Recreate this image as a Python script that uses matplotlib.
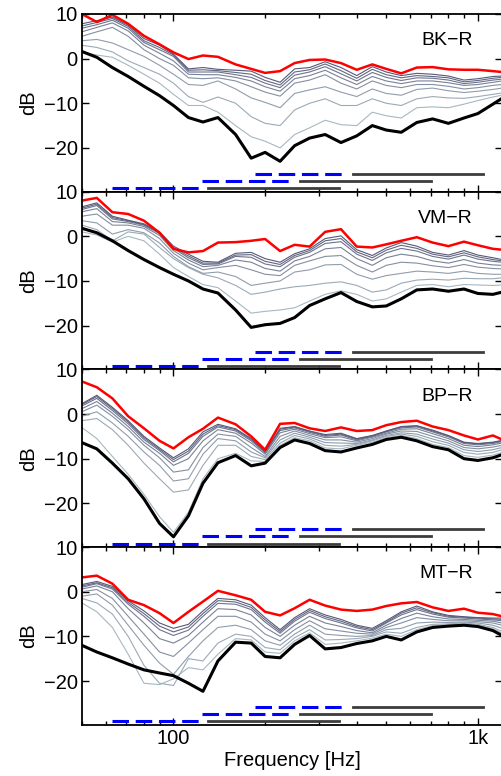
import numpy as np
import matplotlib.pyplot as plt
from matplotlib.ticker import LogLocator, NullFormatter, FixedLocator, FixedFormatter
from matplotlib.colors import to_rgb

plt.rcParams['font.family'] = ['Liberation Sans', 'DejaVu Sans']

# frequency grid (Hz), roughly 1/6 octave
freq = [50, 56, 63, 71, 80, 90, 100, 112, 125, 140, 160, 180, 200, 224, 250,
        280, 315, 355, 400, 450, 500, 560, 630, 710, 800, 900, 1000, 1120, 1200]

names = ['BK\u2212R', 'VM\u2212R', 'BP\u2212R', 'MT\u2212R']

# ---- BK-R
bk_red = [10.0, 8.2, 9.8, 7.8, 5.1, 3.2, 1.4, -0.1, 0.7, 0.4, -1.3, -2.3, -3.2, -2.8, -1.0,
          -0.3, -0.2, -1.0, -2.5, -1.3, -2.3, -3.3, -2.0, -1.9, -2.4, -2.5, -2.5, -2.8, -3.0]
bk_black = [1.6, 0.3, -2.0, -4.0, -6.2, -8.3, -10.5, -13.2, -14.2, -13.2, -17.0, -22.3, -21.0, -23.0, -19.5,
            -17.8, -17.0, -18.8, -17.3, -15.0, -16.0, -16.5, -14.3, -13.5, -14.5, -13.3, -12.3, -10.2, -8.9]
bk_thin = [
    [7.8, 8.5, 9.3, 7.5, 4.5, 3.0, 1.0, -2.3, -2.0, -2.4, -2.6, -2.8, -4.2, -5.3, -2.3,
     -2.0, -0.7, -2.0, -3.8, -1.8, -3.0, -3.8, -3.3, -3.5, -3.9, -4.8, -4.5, -4.0, -3.9],
    [7.3, 8.1, 9.0, 7.2, 4.0, 2.5, 0.8, -2.6, -2.5, -2.7, -3.1, -3.5, -4.9, -5.9, -3.0,
     -2.5, -1.2, -2.7, -4.4, -2.4, -3.6, -4.3, -3.8, -4.0, -4.3, -5.2, -4.9, -4.4, -4.2],
    [6.8, 7.6, 8.6, 6.8, 3.6, 2.0, 0.5, -3.0, -3.0, -3.0, -3.6, -4.2, -5.5, -6.5, -3.7,
     -3.0, -1.8, -3.4, -5.0, -3.1, -4.2, -4.9, -4.3, -4.4, -4.8, -5.6, -5.3, -4.8, -4.6],
    [6.0, 7.0, 8.0, 6.2, 3.0, 1.2, -0.5, -3.5, -3.6, -3.6, -4.2, -5.0, -6.3, -7.3, -4.5,
     -3.8, -2.6, -4.3, -5.8, -4.0, -5.0, -5.6, -5.0, -5.0, -5.4, -6.0, -5.8, -5.3, -5.0],
    [5.0, 6.0, 7.0, 5.0, 2.0, 0.0, -1.5, -4.3, -4.5, -4.3, -5.0, -6.3, -7.5, -8.4, -5.5,
     -4.8, -3.6, -5.5, -6.8, -5.0, -6.0, -6.5, -5.8, -5.8, -6.2, -6.8, -6.5, -6.0, -5.8],
    [4.0, 4.3, 3.5, 2.0, 0.5, -1.5, -3.5, -5.8, -6.0, -5.0, -6.8, -8.8, -9.8, -11.0, -7.8,
     -7.0, -6.3, -7.5, -8.5, -6.8, -7.8, -8.2, -6.9, -6.6, -7.2, -7.6, -7.3, -6.9, -6.6],
    [3.0, 2.5, 1.5, -0.5, -2.0, -3.5, -5.5, -8.5, -9.8, -8.6, -10.0, -13.0, -14.5, -15.0, -11.5,
     -10.0, -9.0, -10.5, -10.5, -9.0, -10.0, -10.5, -9.0, -8.5, -8.8, -8.9, -8.5, -8.0, -7.7],
    [1.5, 0.8, 0.3, -1.5, -3.5, -5.5, -8.0, -10.5, -10.5, -12.0, -15.0, -17.5, -18.5, -20.0, -17.0,
     -15.5, -13.8, -14.8, -15.0, -12.0, -12.8, -13.3, -11.0, -10.8, -11.0, -10.2, -9.4, -8.6, -8.2],
]

# ---- VM-R
vm_red = [8.0, 8.6, 5.4, 5.0, 3.5, 0.8, -2.8, -3.6, -3.3, -1.4, -1.3, -1.0, -0.6, -3.3, -1.9,
          -2.3, 1.0, 1.6, -2.3, -2.5, -1.8, -1.0, -0.2, -1.4, -2.2, -1.2, -2.0, -2.8, -3.0]
vm_black = [1.8, 0.8, -1.0, -3.2, -5.2, -7.0, -8.5, -10.0, -11.8, -12.7, -16.5, -20.4, -19.8, -19.5, -18.2,
            -15.5, -14.0, -12.6, -14.6, -15.8, -15.6, -14.0, -12.0, -11.8, -12.3, -11.8, -12.8, -13.0, -12.5]
vm_thin = [
    [6.6, 7.5, 4.5, 3.6, 2.8, 1.0, -2.2, -4.0, -5.6, -5.8, -3.8, -3.6, -5.0, -5.8, -3.9,
     -2.8, -0.5, 0.1, -3.0, -4.3, -2.6, -1.4, -2.2, -3.6, -4.2, -3.2, -4.2, -4.8, -5.2],
    [6.3, 7.2, 4.2, 3.5, 2.6, 0.8, -2.5, -4.4, -6.0, -6.0, -4.2, -4.1, -5.6, -6.3, -4.3,
     -3.2, -1.0, -0.5, -3.5, -4.8, -3.1, -2.0, -2.7, -4.0, -4.6, -3.7, -4.6, -5.2, -5.5],
    [6.0, 6.9, 3.9, 3.3, 2.5, 0.6, -2.7, -4.8, -6.3, -6.2, -4.5, -4.7, -6.2, -6.8, -4.7,
     -3.6, -1.6, -1.2, -4.0, -5.4, -3.7, -2.7, -3.3, -4.5, -5.1, -4.2, -5.1, -5.6, -5.8],
    [5.5, 6.2, 3.3, 3.0, 2.2, 0.2, -3.2, -5.3, -6.8, -6.5, -5.3, -5.8, -7.2, -7.8, -5.5,
     -4.5, -2.8, -2.5, -5.0, -6.5, -4.8, -4.0, -4.5, -5.5, -6.0, -5.2, -6.0, -6.4, -6.5],
    [4.5, 5.0, 2.5, 2.5, 1.8, -0.5, -3.8, -6.0, -7.5, -7.0, -6.5, -7.5, -8.5, -8.8, -6.5,
     -5.5, -4.5, -4.3, -6.5, -8.0, -6.5, -5.8, -6.0, -6.6, -7.0, -6.3, -6.9, -7.2, -7.3],
    [3.5, 3.0, 0.5, 1.5, 0.8, -1.5, -4.5, -6.8, -8.3, -8.0, -9.0, -11.0, -10.5, -10.0, -8.0,
     -7.5, -6.4, -6.3, -8.5, -9.6, -8.8, -8.3, -7.8, -8.0, -8.3, -7.8, -8.3, -8.5, -8.5],
    [2.5, 1.5, -1.0, 1.0, 0.5, -2.5, -5.0, -7.0, -8.5, -9.3, -11.0, -13.0, -12.5, -11.8, -11.3,
     -11.0, -10.5, -10.2, -11.0, -12.5, -12.0, -10.5, -9.8, -9.6, -9.8, -9.4, -9.5, -9.5, -9.3],
    [1.0, 0.3, -1.3, 0.0, -1.0, -4.0, -7.0, -9.0, -10.8, -11.5, -14.5, -17.2, -16.8, -16.5, -16.0,
     -14.5, -13.0, -12.2, -13.0, -14.5, -14.0, -12.5, -11.0, -10.8, -11.3, -10.8, -10.9, -11.0, -10.9],
]

# ---- BP-R
bp_red = [7.3, 6.0, 3.5, -0.5, -3.2, -6.0, -7.7, -5.2, -3.3, -0.8, -2.3, -5.0, -8.0, -2.2, -2.0,
          -3.2, -3.8, -3.0, -3.8, -3.6, -2.5, -1.8, -1.5, -2.8, -3.6, -4.8, -5.7, -4.8, -5.7]
bp_black = [-6.4, -7.8, -11.0, -14.5, -19.0, -24.5, -27.5, -22.8, -15.5, -10.9, -9.3, -11.6, -11.0, -7.5, -5.8,
            -6.6, -8.2, -8.5, -7.6, -6.8, -5.7, -5.2, -6.0, -7.3, -8.0, -10.0, -10.4, -9.8, -9.1]
bp_thin = [
    [2.3, 4.2, 1.5, -1.5, -5.0, -7.6, -9.8, -7.8, -4.0, -2.3, -3.3, -5.5, -8.4, -3.2, -2.8,
     -3.8, -4.6, -4.3, -5.5, -4.8, -3.8, -2.8, -2.6, -3.6, -4.8, -6.3, -6.6, -6.3, -5.9],
    [2.1, 3.9, 1.2, -1.8, -5.3, -7.9, -10.2, -8.3, -4.5, -2.6, -3.5, -5.7, -8.5, -3.4, -2.9,
     -3.9, -4.8, -4.5, -5.6, -4.9, -3.9, -2.9, -2.7, -3.8, -4.9, -6.4, -6.7, -6.4, -6.0],
    [1.8, 3.5, 0.8, -2.2, -5.7, -8.2, -10.7, -8.8, -5.0, -2.9, -3.8, -6.0, -8.7, -3.7, -3.1,
     -4.1, -5.0, -4.7, -5.8, -5.0, -4.0, -3.1, -2.9, -4.0, -5.1, -6.6, -6.9, -6.6, -6.2],
    [1.2, 2.8, 0.2, -2.8, -6.3, -8.8, -11.5, -10.0, -6.0, -3.5, -4.3, -6.5, -9.0, -4.2, -3.4,
     -4.4, -5.3, -5.1, -6.0, -5.2, -4.3, -3.4, -3.3, -4.4, -5.5, -7.0, -7.3, -6.9, -6.5],
    [0.5, 2.0, -0.5, -3.5, -7.0, -9.8, -13.0, -12.5, -7.5, -4.5, -5.0, -7.5, -9.5, -5.0, -3.8,
     -4.8, -5.8, -5.8, -6.3, -5.5, -4.5, -3.8, -3.9, -5.0, -6.0, -7.5, -7.8, -7.4, -7.0],
    [-0.5, 0.5, -2.0, -5.0, -8.5, -11.5, -15.0, -14.5, -9.0, -5.5, -6.0, -8.5, -9.8, -5.8, -4.3,
     -5.2, -6.4, -6.5, -6.6, -5.8, -4.8, -4.2, -4.5, -5.6, -6.5, -8.0, -8.4, -8.0, -7.5],
    [-1.5, -1.0, -3.5, -7.0, -11.0, -14.5, -17.5, -17.0, -11.5, -7.0, -7.0, -9.5, -10.2, -6.5, -4.8,
     -5.6, -7.0, -7.2, -6.8, -6.0, -5.0, -4.5, -5.0, -6.2, -7.0, -8.6, -9.0, -8.6, -8.0],
    [-3.0, -5.5, -9.5, -13.5, -18.0, -23.0, -26.5, -22.0, -14.5, -10.0, -8.8, -10.5, -10.6, -7.0, -5.3,
     -6.0, -7.6, -7.8, -7.0, -6.3, -5.3, -4.8, -5.5, -6.8, -7.5, -9.3, -9.7, -9.2, -8.6],
]

# ---- MT-R
mt_red = [3.2, 3.6, 1.8, -1.8, -3.0, -4.8, -7.0, -4.5, -2.2, 0.2, -0.8, -1.8, -4.5, -5.3, -3.7,
          -1.8, -3.1, -4.0, -4.3, -4.0, -3.2, -2.6, -2.3, -3.5, -4.3, -3.8, -4.7, -5.0, -5.5]
mt_black = [-12.0, -13.5, -14.8, -16.2, -17.5, -18.2, -18.8, -20.5, -22.3, -15.5, -11.3, -11.5, -14.5, -14.8, -11.8,
            -9.8, -12.8, -12.5, -11.6, -11.0, -10.0, -10.8, -9.0, -8.0, -7.7, -7.5, -7.8, -8.7, -9.8]
mt_thin = [
    [1.6, 2.3, 1.2, -2.0, -4.3, -7.0, -8.2, -7.3, -4.3, -1.5, -1.8, -3.0, -5.8, -8.5, -5.8,
     -3.8, -5.2, -6.2, -7.5, -8.2, -6.5, -4.5, -3.2, -4.5, -5.3, -5.6, -5.8, -5.9, -5.9],
    [1.3, 2.0, 0.9, -2.4, -4.9, -7.7, -9.0, -7.9, -4.9, -2.0, -2.3, -3.5, -6.3, -8.9, -6.2,
     -4.2, -5.6, -6.6, -7.8, -8.5, -6.8, -4.8, -3.6, -4.7, -5.5, -5.7, -5.9, -6.1, -6.2],
    [1.0, 1.8, 0.6, -2.8, -5.5, -8.5, -9.8, -8.6, -5.5, -2.6, -2.8, -4.0, -6.8, -9.3, -6.6,
     -4.6, -6.0, -7.0, -8.1, -8.8, -7.0, -5.2, -4.0, -5.0, -5.7, -5.9, -6.1, -6.3, -6.5],
    [0.6, 1.3, 0.0, -3.8, -7.0, -10.5, -11.5, -9.8, -6.8, -3.8, -4.0, -5.2, -8.0, -10.0, -7.5,
     -5.5, -7.0, -7.8, -8.7, -9.2, -7.5, -6.0, -4.8, -5.6, -6.1, -6.2, -6.4, -6.6, -7.0],
    [0.0, 0.5, -1.5, -5.5, -9.5, -13.5, -14.5, -11.5, -8.5, -5.5, -5.5, -6.8, -9.5, -11.0, -8.5,
     -6.5, -8.3, -8.8, -9.3, -9.5, -8.0, -7.0, -5.8, -6.2, -6.5, -6.5, -6.7, -7.0, -7.5],
    [-1.0, -0.5, -3.0, -7.5, -12.0, -16.0, -18.5, -14.5, -11.0, -8.0, -7.5, -8.5, -11.0, -12.0, -9.5,
     -7.5, -9.5, -9.8, -10.0, -9.8, -8.5, -8.2, -7.0, -6.8, -6.9, -6.8, -7.0, -7.5, -8.2],
    [-1.5, -2.5, -5.0, -10.0, -16.5, -20.5, -21.0, -15.0, -15.5, -11.5, -9.5, -10.0, -12.5, -13.0, -10.3,
     -8.5, -10.8, -10.7, -10.5, -10.0, -9.0, -9.3, -8.0, -7.3, -7.2, -7.0, -7.3, -8.0, -8.9],
    [-2.5, -4.5, -8.0, -14.0, -20.5, -20.8, -19.5, -17.0, -17.5, -14.0, -10.5, -10.8, -13.5, -13.8, -11.0,
     -9.2, -11.8, -11.5, -11.0, -10.4, -9.5, -10.0, -8.5, -7.6, -7.4, -7.2, -7.5, -8.3, -9.3],
]

reds = [bk_red, vm_red, bp_red, mt_red]
blacks = [bk_black, vm_black, bp_black, mt_black]
thins = [bk_thin, vm_thin, bp_thin, mt_thin]

# frequency bands shown as bars at the bottom of each panel (Hz)
blue_bands = [(63, 122), (124, 243), (185, 365)]
gray_bands = [(130, 350), (260, 700), (390, 1040)]
band_levels = [-29.0, -27.4, -25.8]

dark = np.array(to_rgb('#565877'))
light = np.array(to_rgb('#a6b8c1'))

fig, axes = plt.subplots(4, 1, figsize=(5.02, 7.76), dpi=100, sharex=True)
fig.subplots_adjust(left=0.163, right=1.0, top=0.982, bottom=0.066, hspace=0)

fs = 14.5
for i, ax in enumerate(axes):
    n = len(thins[i])
    for k in range(n - 1, -1, -1):
        c = dark + (light - dark) * k / (n - 1)
        ax.plot(freq, thins[i][k], color=c, lw=0.8)
    ax.plot(freq, blacks[i], color='black', lw=2.2)
    ax.plot(freq, reds[i], color='#ff0000', lw=1.8)

    for (f0, f1), lev in zip(blue_bands, band_levels):
        ax.plot([f0, f1], [lev, lev], color='#0000ff', lw=2.2, dashes=(5.4, 2.2))
    for (f0, f1), lev in zip(gray_bands, band_levels):
        ax.plot([f0, f1], [lev, lev], color='#3c3c3c', lw=2.0)

    ax.set_xscale('log')
    ax.set_xlim(50, 1200)
    ax.set_ylim(-29.8, 10)
    ax.set_yticks([-20, -10, 0, 10])
    ax.xaxis.set_major_locator(FixedLocator([100, 1000]))
    ax.xaxis.set_major_formatter(FixedFormatter(['100', '1k']))
    ax.xaxis.set_minor_locator(LogLocator(base=10, subs=range(2, 10)))
    ax.xaxis.set_minor_formatter(NullFormatter())
    ax.tick_params(which='both', direction='in', top=True, right=True, labelsize=fs, width=1, pad=3)
    ax.tick_params(which='major', length=5)
    ax.tick_params(which='minor', length=3)
    for s in ax.spines.values():
        s.set_linewidth(1.3)
    ax.set_ylabel('dB', fontsize=fs)
    ax.yaxis.set_label_coords(-0.105, 0.5)
    ax.text(0.93, 0.85, names[i], transform=ax.transAxes, ha='right', va='center', fontsize=14)
    if i < 3:
        ax.tick_params(labelbottom=False)

axes[-1].set_xlabel('Frequency [Hz]', fontsize=fs, labelpad=2)

fig.savefig('out.png', dpi=100)
